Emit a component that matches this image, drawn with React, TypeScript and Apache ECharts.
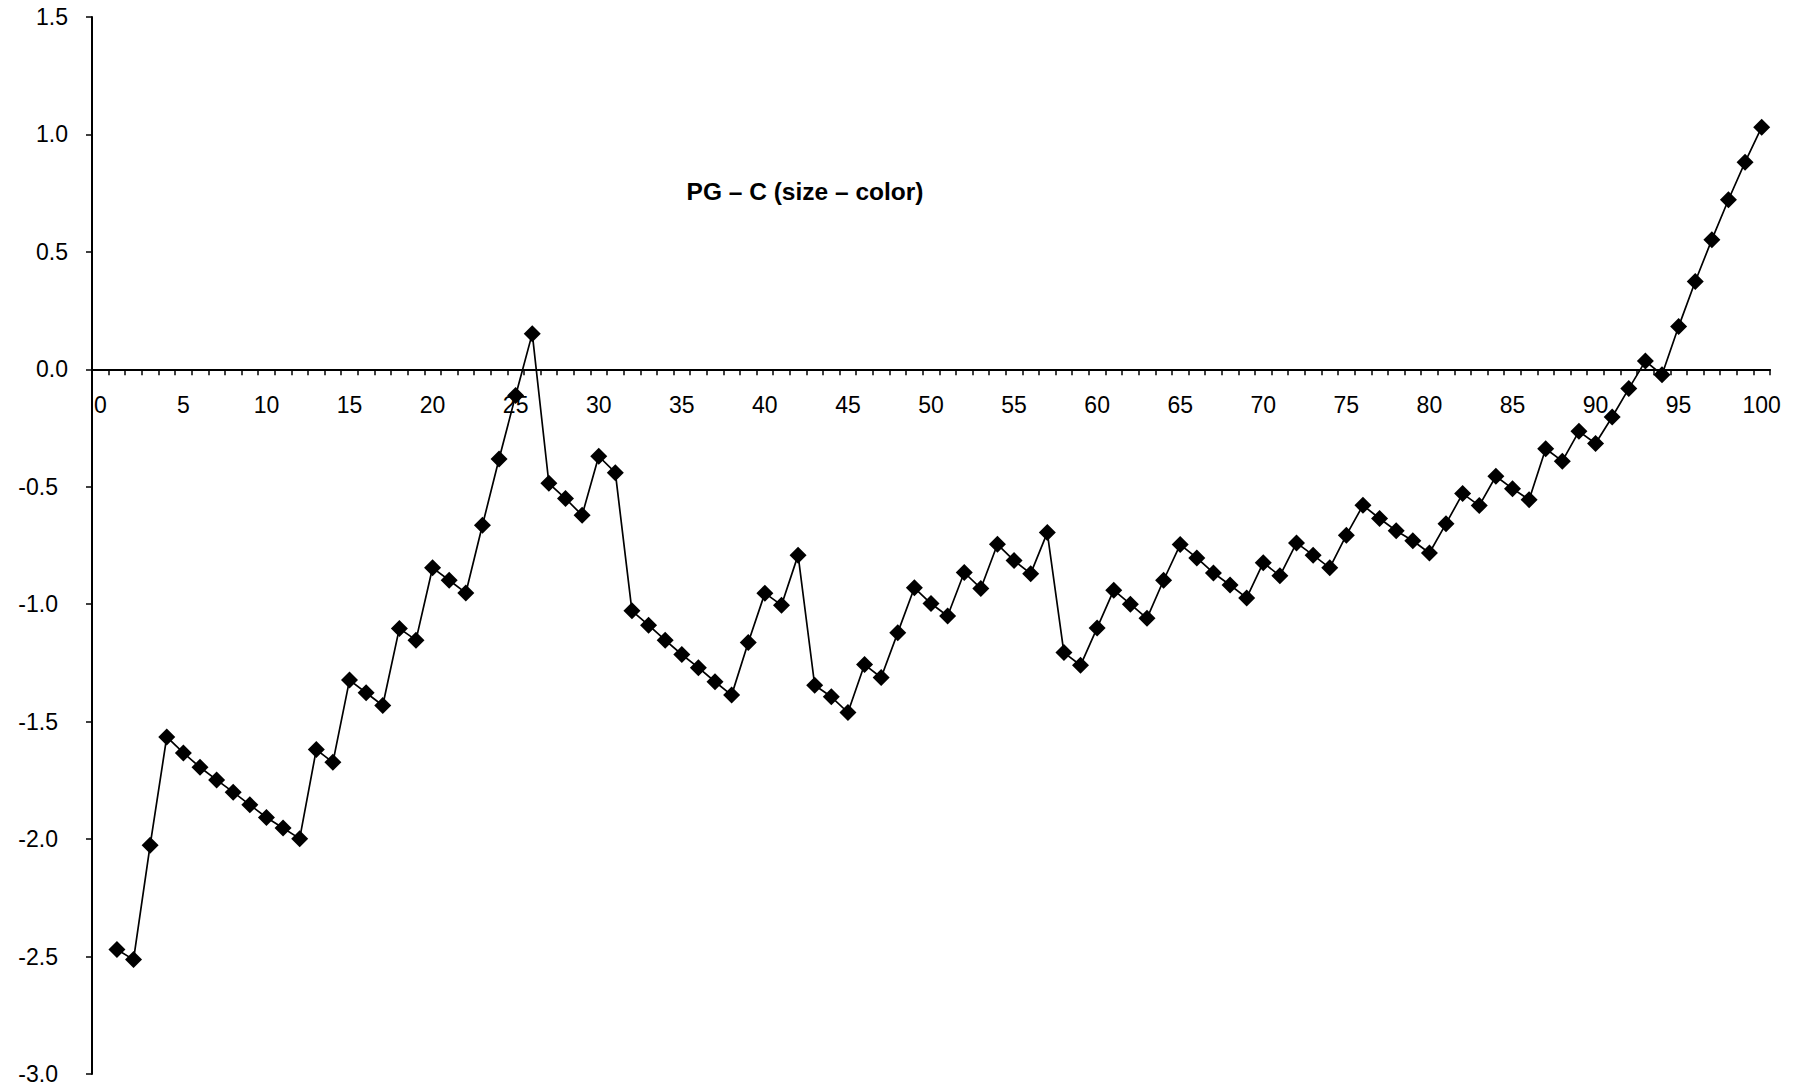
import React, { useEffect, useRef } from "react";
import * as echarts from "echarts";

const TITLE = "PG – C (size – color)";

// x categories 0..100 (category 0 has no value)
const categories: string[] = Array.from({ length: 101 }, (_, i) => String(i));

// values for categories 1..100
const values: number[] = [
  -2.47, -2.513, -2.026, -1.565, -1.633, -1.694, -1.748, -1.8, -1.854, -1.908,
  -1.953, -1.998, -1.619, -1.673, -1.323, -1.377, -1.431, -1.103, -1.153, -0.845,
  -0.898, -0.952, -0.664, -0.382, -0.111, 0.152, -0.485, -0.55, -0.621, -0.37,
  -0.44, -1.028, -1.089, -1.153, -1.214, -1.27, -1.33, -1.387, -1.163, -0.953,
  -1.004, -0.791, -1.345, -1.394, -1.461, -1.257, -1.312, -1.121, -0.93, -0.997,
  -1.05, -0.865, -0.933, -0.745, -0.814, -0.87, -0.695, -1.206, -1.26, -1.101,
  -0.94, -1.0, -1.06, -0.898, -0.746, -0.803, -0.867, -0.918, -0.973, -0.823,
  -0.879, -0.739, -0.791, -0.845, -0.706, -0.579, -0.635, -0.687, -0.73, -0.782,
  -0.657, -0.529, -0.58, -0.455, -0.508, -0.555, -0.338, -0.391, -0.264, -0.316,
  -0.203, -0.082, 0.035, -0.023, 0.182, 0.374, 0.552, 0.722, 0.882, 1.031,
];

const Y_MIN = -3;
const Y_MAX = 1.5;
const Y_STEP = 0.5;

const FONT = "'Liberation Sans', Arial, sans-serif";

const W = 1796;
const H = 1092;
const GRID_TOP = 17;
const GRID_BOTTOM = 18;

export default function App() {
  const ref = useRef<HTMLDivElement>(null);

  useEffect(() => {
    if (!ref.current) return;
    const chart = echarts.init(ref.current, undefined, { renderer: "svg" });
    const seriesData: (number | null)[] = [null, ...values];
    const gridH = H - GRID_TOP - GRID_BOTTOM;
    const zeroOffset = -(gridH * (0 - Y_MIN)) / (Y_MAX - Y_MIN);
    chart.setOption({
      animation: false,
      backgroundColor: "#ffffff",
      title: {
        text: TITLE,
        left: 805,
        top: 191,
        padding: 0,
        textAlign: "center",
        textVerticalAlign: "middle",
        textStyle: {
          fontFamily: FONT,
          fontWeight: "bold",
          fontSize: 24.5,
          color: "#000",
        },
      },
      grid: {
        left: 92,
        right: 26,
        top: GRID_TOP,
        bottom: GRID_BOTTOM,
        containLabel: false,
        outerBoundsMode: "none",
      },
      xAxis: {
        type: "category",
        data: categories,
        boundaryGap: true,
        position: "bottom",
        offset: zeroOffset,
        axisLine: { onZero: false, lineStyle: { color: "#000", width: 2 } },
        axisTick: { show: true, interval: 0, length: 6, inside: false, lineStyle: { color: "#000", width: 1.5 } },
        axisLabel: {
          interval: 4,
          margin: 24,
          color: "#000",
          fontFamily: FONT,
          fontSize: 23,
        },
        splitLine: { show: false },
      },
      yAxis: {
        type: "value",
        min: Y_MIN,
        max: Y_MAX,
        interval: Y_STEP,
        axisLine: { show: true, lineStyle: { color: "#000", width: 2 } },
        axisTick: { show: true, length: 6, lineStyle: { color: "#000", width: 1.5 } },
        axisLabel: {
          margin: 24,
          color: "#000",
          fontFamily: FONT,
          fontSize: 23,
          formatter: (v: number) => (v < 0 ? `{n|${v.toFixed(1)}}` : v.toFixed(1)),
          rich: {
            n: {
              fontFamily: FONT,
              fontSize: 23,
              color: "#000",
              padding: [0, 10, 0, 0],
            },
          },
        },
        splitLine: { show: false },
      },
      series: [
        {
          type: "line",
          data: seriesData,
          symbol: "diamond",
          symbolSize: 17,
          showAllSymbol: true,
          lineStyle: { color: "#000", width: 1.7 },
          itemStyle: { color: "#000" },
        },
      ],
    });
    return () => chart.dispose();
  }, []);

  return (
    <div
      ref={ref}
      style={{ position: "absolute", left: 0, top: 0, width: W, height: H }}
    />
  );
}
